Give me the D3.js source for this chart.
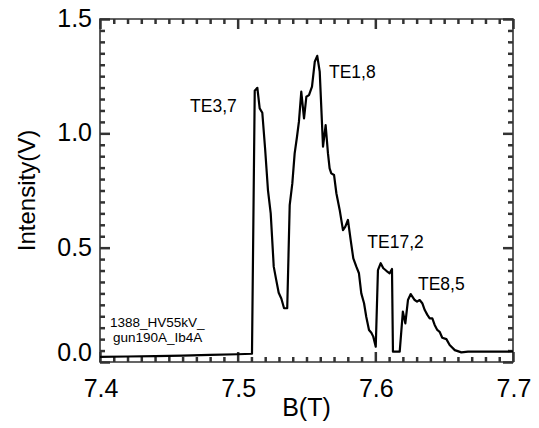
<!DOCTYPE html>
<html>
<head>
<meta charset="utf-8">
<script src="https://cdn.jsdelivr.net/npm/d3@7"></script>
<style>
  body { margin: 0; background: #fff; }
  svg { display: block; font-family: "Liberation Sans", Arial, sans-serif; }
</style>
</head>
<body>
<div id="chart"></div>
<script>
// Magnetic field scan (T) and detected intensity (V)
const bField = [
  7.400, 7.420, 7.440, 7.460, 7.480, 7.500, 7.5104, 7.5124, 7.5143, 7.516,
  7.5179, 7.520, 7.522, 7.524, 7.5262, 7.528, 7.5298, 7.5317, 7.5337, 7.536,
  7.5378, 7.5397, 7.5414, 7.5431, 7.5445, 7.5462, 7.5482, 7.5499, 7.5518, 7.554,
  7.556, 7.5578, 7.5596, 7.562, 7.5639, 7.5656, 7.5668, 7.568, 7.570, 7.5717,
  7.5741, 7.5765, 7.5782, 7.5801, 7.5821, 7.584, 7.5862, 7.5881, 7.5898, 7.5918,
  7.5934, 7.5954, 7.5971, 7.5985, 7.6003, 7.6019, 7.6039, 7.6058, 7.608, 7.6104,
  7.6121, 7.6128, 7.6152, 7.6177, 7.620, 7.6218, 7.6237, 7.6257, 7.6286, 7.6303,
  7.6322, 7.6341, 7.6359, 7.6378, 7.6395, 7.6414, 7.6431, 7.645, 7.6467, 7.6486,
  7.6516, 7.654, 7.6577, 7.6625, 7.6673, 7.6746, 7.690, 7.700
];
const intensity = [
  0.022, 0.024, 0.026, 0.028, 0.031, 0.034, 0.036, 1.186, 1.199, 1.109,
  1.090, 0.927, 0.752, 0.650, 0.417, 0.359, 0.303, 0.278, 0.235, 0.235,
  0.686, 0.781, 0.912, 0.985, 1.051, 1.182, 1.065, 1.160, 1.167, 1.204,
  1.313, 1.339, 1.270, 0.942, 1.036, 0.912, 0.847, 0.825, 0.818, 0.738,
  0.665, 0.577, 0.592, 0.621, 0.533, 0.453, 0.417, 0.388, 0.300, 0.257,
  0.198, 0.140, 0.128, 0.111, 0.067, 0.402, 0.432, 0.410, 0.399, 0.388,
  0.407, 0.045, 0.045, 0.045, 0.220, 0.169, 0.271, 0.297, 0.271, 0.264,
  0.271, 0.257, 0.227, 0.206, 0.191, 0.191, 0.162, 0.140, 0.132, 0.106,
  0.100, 0.074, 0.052, 0.042, 0.045, 0.046, 0.045, 0.046
];

const xTicks = [7.4, 7.5, 7.6, 7.7];
const yTicks = [0.0, 0.5, 1.0, 1.5];

// mode labels, anchored in data units (left edge, baseline)
const peakNames = ['TE3,7', 'TE1,8', 'TE17,2', 'TE8,5'];
const peakB = [7.4654, 7.5663, 7.5942, 7.6310];
const peakV = [1.093, 1.242, 0.498, 0.315];

const runInfo = ['1388_HV55kV_', 'gun190A_Ib4A'];

const width = 539, height = 428;
const margin = { top: 19, right: 26, bottom: 66, left: 100 };
const w = width - margin.left - margin.right;
const h = height - margin.top - margin.bottom;

const svg = d3.select('#chart').append('svg')
  .attr('width', width)
  .attr('height', height);

const g = svg.append('g')
  .attr('transform', `translate(${margin.left},${margin.top})`);

const x = d3.scaleLinear().domain([7.4, 7.7]).range([0, w]);
const y = d3.scaleLinear().domain([0, 1.5]).range([h, 0]);

const tickColor = '#333';
const minorX = d3.range(0, 31).map(i => 7.4 + i * 0.01);
const minorY = d3.range(0, 31).map(i => i * 0.05);
const xLen = d => (Math.round(d * 1000) % 100 === 0 ? 10 : 5);
const yLen = d => (Math.round(d * 100) % 50 === 0 ? 10 : 5);

// inward minor/major ticks on all four sides
function tickGroup(axis, transform, attr, len) {
  g.append('g')
    .attr('transform', transform)
    .call(axis.tickSizeInner(-1).tickSizeOuter(0).tickFormat(() => ''))
    .call(a => a.select('.domain').remove())
    .call(a => a.selectAll('.tick line')
      .attr(attr, len)
      .attr('stroke', tickColor)
      .attr('stroke-width', 2.5));
}
tickGroup(d3.axisBottom(x).tickValues(minorX), `translate(0,${h})`, 'y2', d => -xLen(d));
tickGroup(d3.axisTop(x).tickValues(minorX), 'translate(0,0)', 'y2', d => xLen(d));
tickGroup(d3.axisLeft(y).tickValues(minorY), 'translate(0,0)', 'x2', d => yLen(d));
tickGroup(d3.axisRight(y).tickValues(minorY), `translate(${w},0)`, 'x2', d => -yLen(d));

// frame
g.append('path')
  .attr('d', `M0,0H${w}V${h}H0Z`)
  .attr('fill', 'none')
  .attr('stroke', tickColor)
  .attr('stroke-width', 1.6);

// tick labels
g.append('g')
  .selectAll('text')
  .data(xTicks)
  .join('text')
  .attr('x', d => x(d) + 1)
  .attr('y', h + 35)
  .attr('text-anchor', 'middle')
  .attr('font-size', 25)
  .text(d => d.toFixed(1));

g.append('g')
  .selectAll('text')
  .data(yTicks)
  .join('text')
  .attr('x', -8)
  .attr('y', d => y(d) + (d === 0 ? -1 : 8))
  .attr('text-anchor', 'end')
  .attr('font-size', 25)
  .text(d => d.toFixed(1));

// axis titles
svg.append('text')
  .attr('x', margin.left + x(7.55))
  .attr('y', 416)
  .attr('text-anchor', 'middle')
  .attr('font-size', 25)
  .text('B(T)');

svg.append('text')
  .attr('transform', `translate(35,${margin.top + h / 2}) rotate(-90)`)
  .attr('text-anchor', 'middle')
  .attr('font-size', 24)
  .text('Intensity(V)');

// the trace
const points = bField.map((b, i) => [b, intensity[i]]);
g.append('path')
  .datum(points)
  .attr('fill', 'none')
  .attr('stroke', '#000')
  .attr('stroke-width', 2.2)
  .attr('stroke-linejoin', 'round')
  .attr('d', d3.line().x(d => x(d[0])).y(d => y(d[1])));

// peak labels
g.append('g')
  .selectAll('text')
  .data(peakNames)
  .join('text')
  .attr('x', (d, i) => x(peakB[i]))
  .attr('y', (d, i) => y(peakV[i]))
  .attr('font-size', 17.5)
  .text(d => d);

// run info
g.append('g')
  .selectAll('text')
  .data(runInfo)
  .join('text')
  .attr('x', (d, i) => 10 + i * 3)
  .attr('y', (d, i) => 308 + i * 15)
  .attr('font-size', 13.5)
  .text(d => d);
</script>
</body>
</html>
